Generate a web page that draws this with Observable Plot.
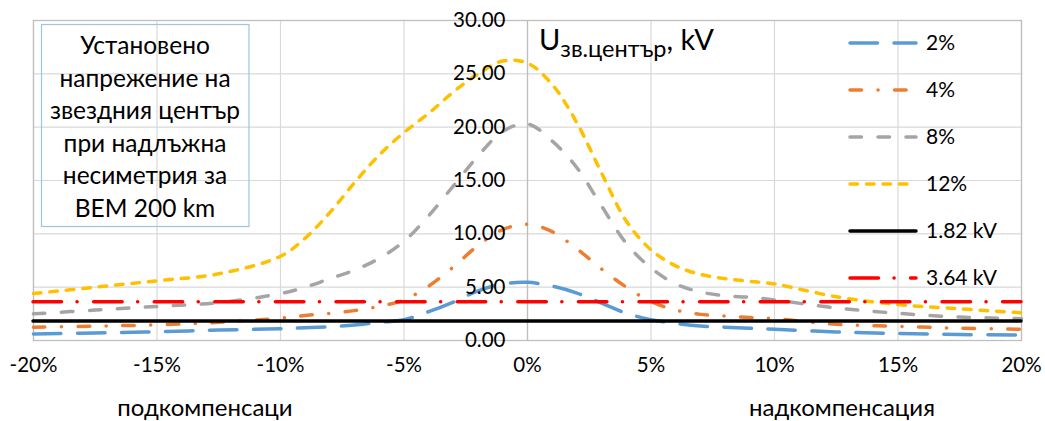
<!DOCTYPE html>
<html><head><meta charset="utf-8">
<script src="https://cdn.jsdelivr.net/npm/d3@7"></script>
<script src="https://cdn.jsdelivr.net/npm/@observablehq/plot@0.6"></script>
<style>
body{margin:0;background:#fff;}
svg{display:block;font-family:Lato,"Open Sans",sans-serif;}
</style>
</head><body><div id="chart"></div>
<script>
// ---- data ----
const xValues = [-20,-17.5,-15,-12.5,-10,-9,-8,-7,-6,-5,-4,-3,-2,-1,0,1,2,3,4,5,6,7,8,9,10,12.5,15,17.5,20];
const series2  = [0.62,0.7,0.82,0.98,1.1,1.2,1.3,1.45,1.7,1.95,2.7,3.6,4.65,5.3,5.45,5.1,4.45,3.5,2.55,1.95,1.6,1.35,1.25,1.15,1.05,0.8,0.66,0.56,0.52];
const series4  = [1.25,1.35,1.47,1.7,2.1,2.35,2.55,2.8,3.2,3.8,5.1,6.9,8.9,10.4,10.9,10.2,8.6,6.7,5.0,3.65,2.85,2.45,2.3,2.15,2.05,1.52,1.33,1.15,1.05];
const series8  = [2.5,2.85,3.2,3.55,4.4,5.0,5.8,6.6,7.7,9.3,11.7,14.5,17.3,19.6,20.3,18.7,16.2,12.6,9.1,6.8,5.3,4.55,4.2,4.05,3.8,3.05,2.55,2.2,2.05];
const series12 = [4.4,5.0,5.6,6.25,7.9,9.6,12.0,14.8,17.4,19.5,21.3,23.3,25.0,26.2,26.0,24.0,20.4,15.7,11.2,8.5,7.0,6.2,5.8,5.55,5.3,4.1,3.37,2.97,2.6];
const seriesNames = ["2%","4%","8%","12%"];
const refValues = [1.82, 3.64];
const refNames = ["1.82 kV","3.64 kV"];
const xTicks = [-20,-15,-10,-5,0,5,10,15,20];
const yTicks = [0,5,10,15,20,25,30];
const boxLines = ["Установено","напрежение на","звездния център","при надлъжна","несиметрия за","ВЕМ 200 km"];
const yTitleMain = "U", yTitleSub = "зв.център", yTitleUnit = ", kV";
const xLabelLeft = "подкомпенсаци", xLabelRight = "надкомпенсация";

// ---- styles ----
const seriesValues = [series2, series4, series8, series12];
const seriesColors = ["#5B9BD5","#ED7D31","#A5A5A5","#FFC000"];
const seriesDash = ["27.5,16.5","11.5,16.5,0.1,16.5","11.5,16.5","7.5,9"];
const refColors = ["#000000","#FF0000"];
const refDash = [null,"28.5,15.5,0.1,16.5"];
const LW = 3.5;
const tickFont = 20.5;

const plot = Plot.plot({
  width: 1045, height: 421,
  marginTop: 20, marginBottom: 81, marginLeft: 33, marginRight: 24,
  x: {domain: [-20, 20], axis: null},
  y: {domain: [0, 30], axis: null},
  style: {fontFamily: "Lato, 'Open Sans', sans-serif", color: "#000", background: "#fff"},
  marks: [
    Plot.gridX(xTicks, {stroke: "#d9d9d9", strokeOpacity: 1, strokeWidth: 1.2}),
    Plot.gridY(yTicks, {stroke: "#d9d9d9", strokeOpacity: 1, strokeWidth: 1.2}),
    Plot.frame({stroke: "#bfbfbf", strokeWidth: 1.3}),
    Plot.ruleX([0], {stroke: "#bfbfbf", strokeWidth: 1.3}),
    ...seriesValues.map((vals, k) => Plot.line(xValues, {
      x: d => d, y: (d, i) => vals[i],
      stroke: seriesColors[k], strokeWidth: LW, strokeDasharray: seriesDash[k],
      strokeLinecap: "round", curve: "catmull-rom"
    })),
    ...refValues.map((v, k) => Plot.ruleY([v], {
      stroke: refColors[k], strokeWidth: LW, strokeDasharray: refDash[k], strokeLinecap: "round"
    })),
    Plot.text(yTicks, {x: 0, y: d => d, text: d => d.toFixed(2), textAnchor: "end", dx: -22, fontSize: tickFont, fill: "#000"}),
    Plot.text(xTicks, {x: d => d, frameAnchor: "bottom", dy: 31, text: d => d + "%", fontSize: tickFont, fill: "#000"})
  ]
});
document.getElementById("chart").appendChild(plot);

const svg = d3.select(plot);
const FF = "Lato, 'Open Sans', sans-serif";

// text box
svg.append("rect").attr("x", 41.5).attr("y", 24.5).attr("width", 207.5).attr("height", 202)
  .attr("fill", "none").attr("stroke", "#9DC3E6").attr("stroke-width", 1.2);
boxLines.forEach((t, i) => {
  svg.append("text").attr("x", 145).attr("y", 54 + i * 32.5).attr("text-anchor", "middle")
    .attr("font-family", FF).attr("font-size", 24.5).attr("fill", "#000").text(t);
});

// y-axis title
const yt = svg.append("text").attr("x", 539).attr("y", 50).attr("text-anchor", "start")
  .attr("font-family", FF).attr("font-size", 29).attr("fill", "#000");
yt.append("tspan").text(yTitleMain);
yt.append("tspan").attr("font-size", 23.5).attr("dy", 7).text(yTitleSub);
yt.append("tspan").attr("dy", -7).text(yTitleUnit);

// x-axis side labels
svg.append("text").attr("x", 205).attr("y", 416).attr("text-anchor", "middle")
  .attr("font-family", FF).attr("font-size", 24).attr("fill", "#000").text(xLabelLeft);
svg.append("text").attr("x", 842).attr("y", 416).attr("text-anchor", "middle")
  .attr("font-family", FF).attr("font-size", 24).attr("fill", "#000").text(xLabelRight);

// legend
const legendItems = [
  ...seriesNames.map((n, k) => ({name: n, color: seriesColors[k], dash: seriesDash[k]})),
  ...refNames.map((n, k) => ({name: n, color: refColors[k], dash: refDash[k]}))
];
legendItems.forEach((it, i) => {
  const y = 43 + i * 47;
  const ln = svg.append("line").attr("x1", 850).attr("x2", 916).attr("y1", y).attr("y2", y)
    .attr("stroke", it.color).attr("stroke-width", LW).attr("stroke-linecap", "round");
  if (it.dash) ln.attr("stroke-dasharray", it.dash);
  svg.append("text").attr("x", 926).attr("y", y).attr("dy", "0.35em").attr("text-anchor", "start")
    .attr("font-family", FF).attr("font-size", 21).attr("fill", "#000").text(it.name);
});
</script>
</body></html>
